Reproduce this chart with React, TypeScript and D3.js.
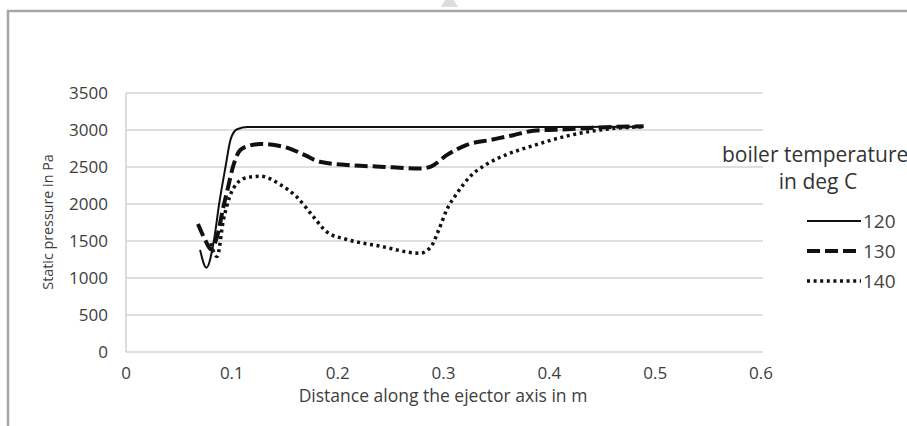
import * as d3 from "d3";

// distance along ejector axis (m) / static pressure (Pa)
const x120 = [0.070, 0.076, 0.083, 0.088, 0.094, 0.099, 0.105, 0.115, 0.2, 0.3, 0.4, 0.489];
const p120 = [1380, 1140, 1500, 2000, 2500, 2880, 3010, 3040, 3040, 3040, 3042, 3045];

const x130 = [0.068, 0.075, 0.080, 0.086, 0.092, 0.0965, 0.101, 0.108, 0.117, 0.127, 0.15, 0.169, 0.183, 0.209, 0.24, 0.278, 0.288, 0.303, 0.322, 0.344, 0.366, 0.385, 0.417, 0.448, 0.489];
const p130 = [1730, 1510, 1390, 1555, 1960, 2230, 2500, 2730, 2790, 2810, 2770, 2660, 2570, 2527, 2505, 2480, 2505, 2660, 2800, 2865, 2930, 2990, 3010, 3035, 3050];

const x140 = [0.080, 0.086, 0.092, 0.098, 0.105, 0.115, 0.127, 0.146, 0.161, 0.177, 0.19, 0.209, 0.24, 0.278, 0.288, 0.2955, 0.303, 0.313, 0.325, 0.341, 0.36, 0.385, 0.417, 0.448, 0.489];
const p140 = [1470, 1290, 1780, 2100, 2280, 2360, 2375, 2260, 2100, 1830, 1620, 1520, 1430, 1335, 1420, 1650, 1920, 2150, 2370, 2540, 2670, 2790, 2920, 3000, 3045];

const xTicks = [0, 0.1, 0.2, 0.3, 0.4, 0.5, 0.6];
const yTicks = [0, 500, 1000, 1500, 2000, 2500, 3000, 3500];
const seriesNames = ["120", "130", "140"];

const font = "'Open Sans', Calibri, sans-serif";

export default function App() {
  const W = 907, H = 426;
  const x = d3.scaleLinear().domain([0, 0.6]).range([126, 761]);
  const y = d3.scaleLinear().domain([0, 3500]).range([352, 93]);

  const line = d3.line<[number, number]>()
    .x(d => x(d[0]))
    .y(d => y(d[1]))
    .curve(d3.curveMonotoneX);

  const series = [
    { name: seriesNames[0], pts: x120.map((v, i) => [v, p120[i]] as [number, number]), width: 2, dash: "none" },
    { name: seriesNames[1], pts: x130.map((v, i) => [v, p130[i]] as [number, number]), width: 4, dash: "13 5" },
    { name: seriesNames[2], pts: x140.map((v, i) => [v, p140[i]] as [number, number]), width: 3.5, dash: "3 3.6" },
  ];

  return (
    <>
      <style>{`body{margin:0}`}</style>
      <svg width={W} height={H} style={{ display: "block", background: "#fff" }}>
        <polygon points="441,7 458,7 454,0 445,0" fill="#ddd" />
        <rect x={8} y={11} width={1000} height={600} fill="none" stroke="#a6a6a6" strokeWidth={2.5} />

        {yTicks.map(t => (
          <g key={t}>
            <line x1={x(0)} x2={x(0.6) + 2} y1={y(t)} y2={y(t)} stroke="#bfbfbf" strokeWidth={1.2} />
            <text x={108} y={y(t)} dy="0.35em" textAnchor="end" fontFamily={font} fontSize={17} fill="#3d3d3d">{t}</text>
          </g>
        ))}
        <line x1={x(0)} x2={x(0)} y1={y(0)} y2={y(3500)} stroke="#d0d0d0" strokeWidth={1.5} />

        {xTicks.map(t => (
          <text key={t} x={x(t)} y={373} dy="0.35em" textAnchor="middle" fontFamily={font} fontSize={17} fill="#3d3d3d">{t}</text>
        ))}

        <text x={443} y={396} dy="0.35em" textAnchor="middle" fontFamily={font} fontSize={17.5} fill="#3d3d3d">Distance along the ejector axis in m</text>
        <text transform="translate(48,222) rotate(-90)" dy="0.35em" textAnchor="middle" fontFamily={font} fontSize={14.3} fill="#3d3d3d">Static pressure in Pa</text>

        {series.map(s => (
          <path key={s.name} d={line(s.pts) || ""} fill="none" stroke="#111" strokeWidth={s.width}
            strokeDasharray={s.dash} strokeLinejoin="round" />
        ))}

        <text x={722} y={155} dy="0.35em" fontFamily={font} fontSize={21} fill="#333">boiler temperature</text>
        <text x={818} y={182} dy="0.35em" textAnchor="middle" fontFamily={font} fontSize={21} fill="#333">in deg C</text>
        {series.map((s, i) => (
          <g key={s.name}>
            <line x1={807} x2={861} y1={221 + i * 30} y2={221 + i * 30} stroke="#111" strokeWidth={s.width} strokeDasharray={s.dash} />
            <text x={863} y={221 + i * 30} dy="0.35em" fontFamily={font} fontSize={19} fill="#444">{s.name}</text>
          </g>
        ))}
      </svg>
    </>
  );
}
